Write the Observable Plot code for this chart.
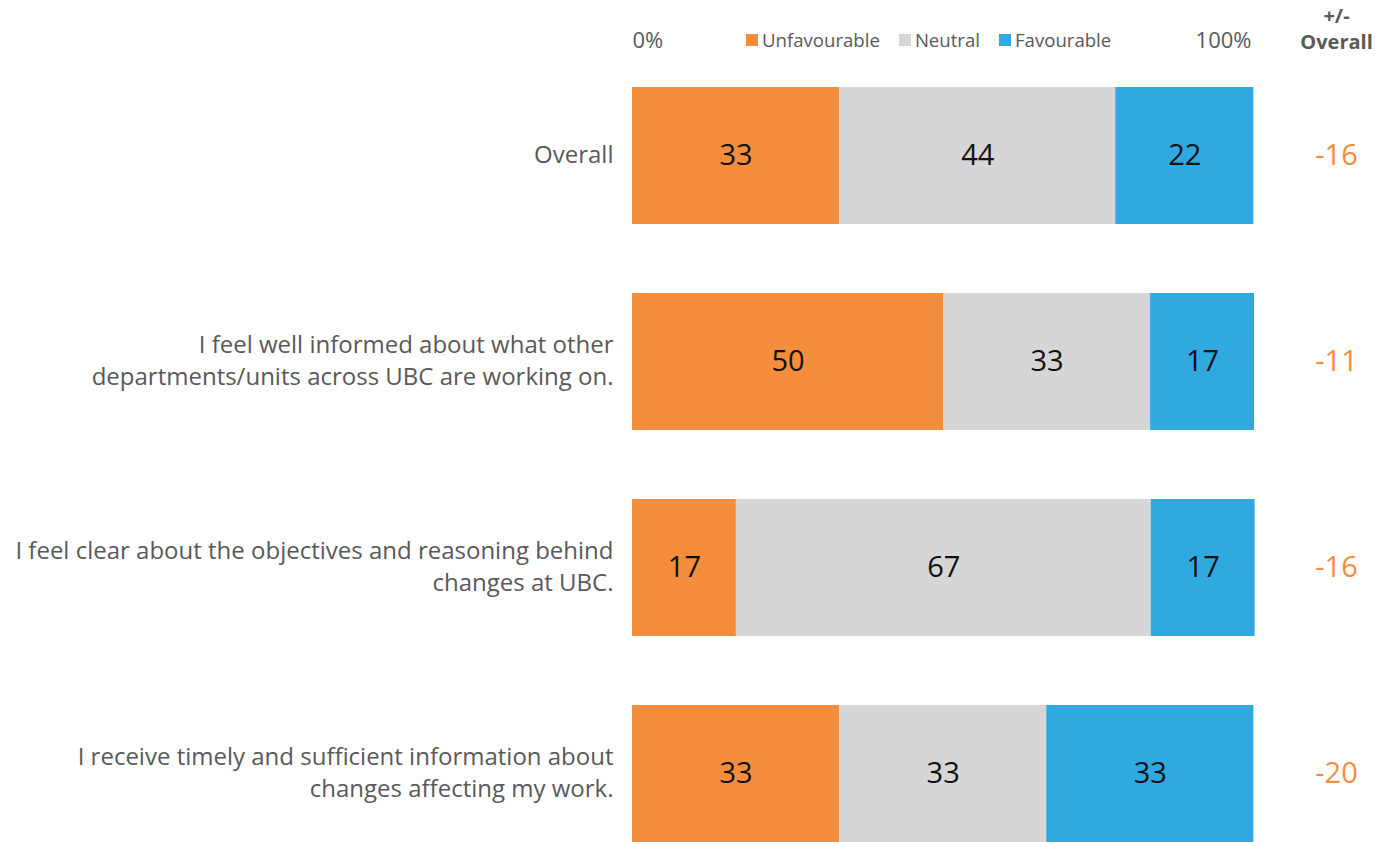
<!DOCTYPE html>
<html><head><meta charset="utf-8">
<script src="https://cdn.jsdelivr.net/npm/d3@7"></script>
<script src="https://cdn.jsdelivr.net/npm/@observablehq/plot@0.6"></script>
<style>
body{margin:0;background:#fff;font-family:"Open Sans",sans-serif;}
#wrap{position:relative;width:1377px;height:842px;}
#wrap svg{position:absolute;left:0;top:0;}
#legend{position:absolute;left:746px;top:28px;display:flex;align-items:center;font-size:18.6px;line-height:24px;color:#595959;z-index:2;}
#legend .item{display:flex;align-items:center;margin-right:19px;}
#legend .sw{width:12px;height:12px;margin-right:4px;}
</style></head><body><div id="wrap"><div id="legend"></div></div>
<script>
const questions = [
  "Overall",
  "I feel well informed about what other\ndepartments/units across UBC are working on.",
  "I feel clear about the objectives and reasoning behind\nchanges at UBC.",
  "I receive timely and sufficient information about\nchanges affecting my work."
];
const unfavourable = [33.3, 50.0, 16.7, 33.3];
const neutral = [44.4, 33.3, 66.7, 33.3];
const favourable = [22.2, 16.7, 16.7, 33.3];
const diffOverall = [-16, -11, -16, -20];
const responses = ["Unfavourable", "Neutral", "Favourable"];
const colors = ["#f48d3c", "#d6d6d6", "#2fa9e0"];
const xTickStart = [0];
const xTickEnd = [100];
const diffHeader = ["+/-\nOverall"];

const rows = [];
questions.forEach((q, i) => {
  rows.push({question: q, response: "Unfavourable", value: unfavourable[i]});
  rows.push({question: q, response: "Neutral", value: neutral[i]});
  rows.push({question: q, response: "Favourable", value: favourable[i]});
});
const diffRows = questions.map((q, i) => ({question: q, diff: diffOverall[i]}));

const chart = Plot.plot({
  width: 1377, height: 842,
  marginLeft: 632, marginRight: 123, marginTop: 86, marginBottom: 0,
  style: {fontFamily: '"Open Sans", sans-serif', background: "transparent", overflow: "visible"},
  x: {domain: [0, 100], axis: null},
  y: {domain: questions, axis: null, paddingInner: 0.336, paddingOuter: 0},
  color: {domain: responses, range: colors},
  marks: [
    Plot.barX(rows, Plot.stackX({x: "value", y: "question", fill: "response", order: responses})),
    Plot.text(rows, Plot.stackX({x: "value", y: "question", z: "response", order: responses,
      text: d => Math.round(d.value), fontSize: 29, fill: "#111"})),
    Plot.axisY({tickSize: 0, tickPadding: 19, dy: -3, fontSize: 24, lineHeight: 1.33, fill: "#595959", label: null}),
    Plot.text(xTickStart, {x: d => d, frameAnchor: "top", lineAnchor: "middle", dy: -46, textAnchor: "start", fontSize: 22, fill: "#595959", text: d => d + "%"}),
    Plot.text(xTickEnd, {x: d => d, frameAnchor: "top", lineAnchor: "middle", dy: -46, textAnchor: "end", dx: -3, fontSize: 22, fill: "#595959", text: d => d + "%"}),
    Plot.text(diffRows, {x: () => 100, y: "question", dx: 82, text: d => String(d.diff), fill: "#f48d3c", fontSize: 29}),
    Plot.text(diffHeader, {x: () => 100, dx: 82, frameAnchor: "top", lineAnchor: "middle", dy: -59, text: d => d, fontSize: 20, fontWeight: "bold", lineHeight: 1.3, fill: "#595959"})
  ]
});
document.getElementById("wrap").appendChild(chart);

const legend = document.getElementById("legend");
responses.forEach((r, i) => {
  const item = document.createElement("div");
  item.className = "item";
  const sw = document.createElement("span");
  sw.className = "sw";
  sw.style.background = colors[i];
  const t = document.createElement("span");
  t.textContent = r;
  item.appendChild(sw); item.appendChild(t);
  legend.appendChild(item);
});
</script>
</body></html>
